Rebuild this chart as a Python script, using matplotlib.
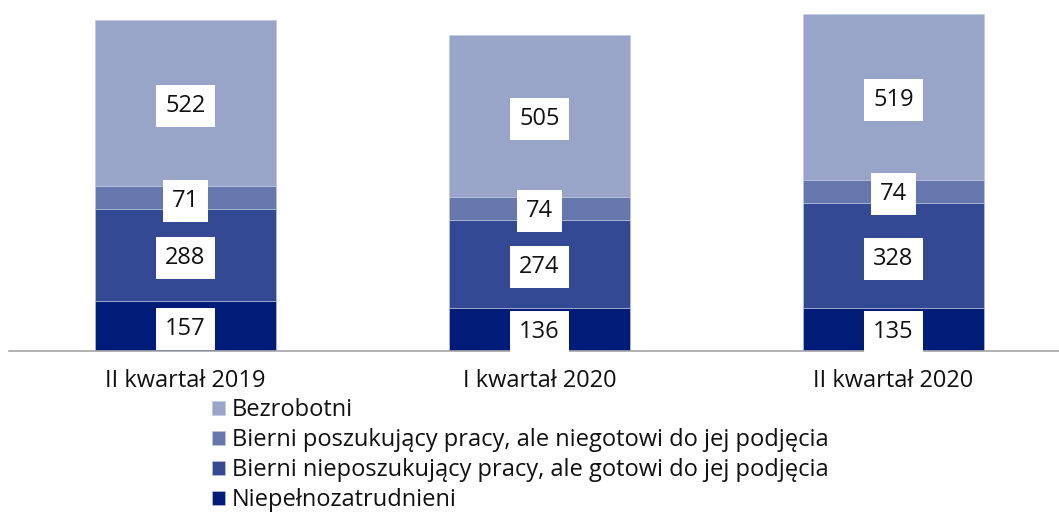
import matplotlib.pyplot as plt
import numpy as np

plt.rcParams['font.family'] = ['Open Sans', 'DejaVu Sans']

categories = ['II kwartał 2019', 'I kwartał 2020', 'II kwartał 2020']
series_names = ['Niepełnozatrudnieni',
                'Bierni nieposzukujący pracy, ale gotowi do jej podjęcia',
                'Bierni poszukujący pracy, ale niegotowi do jej podjęcia',
                'Bezrobotni']
niepelno = [157, 136, 135]
bierni_gotowi = [288, 274, 328]
bierni_niegotowi = [71, 74, 74]
bezrobotni = [522, 505, 519]
colors = ['#001c78', '#334993', '#6677ad', '#99a4c9']

fig = plt.figure(figsize=(10.59, 5.13), dpi=100)
# axes placed in pixel terms: left ~8.5px, baseline at y=351px
ax = fig.add_axes([8.5 / 1059, (513 - 351) / 513, (1059 - 8.5) / 1059, 351 / 513])

x = np.arange(len(categories))
bottom = np.zeros(len(categories))
handles = []
for vals, name, c in zip([niepelno, bierni_gotowi, bierni_niegotowi, bezrobotni], series_names, colors):
    bars = ax.bar(x, vals, 0.511, bottom=bottom, color=c, edgecolor='#c0c8e0', linewidth=0.4, label=name)
    handles.append(bars)
    for xi, b, v in zip(x, bottom, vals):
        ax.text(xi, b + v / 2, str(v), ha='center', va='center_baseline', fontsize=17, color='#111111',
                bbox=dict(boxstyle='square,pad=0.38', facecolor='white', edgecolor='none'))
    bottom += vals

ax.set_xlim(-0.5, (1059 - 185.5) / 354)
ax.set_ylim(0, 1100)
ax.set_yticks([])
ax.set_xticks(x)
ax.set_xticklabels(categories, fontsize=17, color='#111111')
ax.tick_params(axis='x', length=0, pad=13)
for s in ['top', 'right', 'left']:
    ax.spines[s].set_visible(False)
ax.spines['bottom'].set_color('#a6a6a6')
ax.spines['bottom'].set_linewidth(1.2)

fig.legend(handles[::-1], series_names[::-1], loc='upper left',
           bbox_to_anchor=(212 / 1059, 1 - 398 / 513), frameon=False,
           fontsize=17, handlelength=0.55, handleheight=0.55, handletextpad=0.3,
           labelspacing=0.26, borderpad=0, borderaxespad=0, labelcolor='#111111')

fig.savefig('out.png', dpi=100)
